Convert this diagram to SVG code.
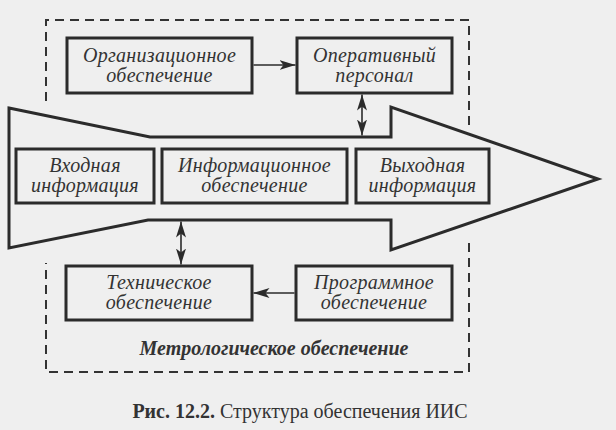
<svg xmlns="http://www.w3.org/2000/svg" width="616" height="430" viewBox="0 0 616 430">
<style>
.bg{fill:#efefef}
.box{fill:#efefef;stroke:#2b2b2b;stroke-width:3}
.big{fill:#efefef;stroke:#2b2b2b;stroke-width:3;stroke-linejoin:miter}
.dash{fill:none;stroke:#333;stroke-width:2;stroke-dasharray:9 6}
text{font-family:'Liberation Serif','DejaVu Serif',serif;fill:#333}
.lbl{font-style:italic;font-size:20px;text-anchor:middle;letter-spacing:0.3px}
.metro{font-style:italic;font-weight:bold;font-size:20px;text-anchor:middle}
.cap{font-size:20px;text-anchor:middle}
.con{fill:none;stroke:#2b2b2b;stroke-width:1.6}
</style>
<defs>
<marker id="ah" viewBox="0 0 16 10" refX="16" refY="5" markerWidth="16" markerHeight="10" markerUnits="userSpaceOnUse" orient="auto-start-reverse">
<path d="M0,0 L16,5 L0,10 L4,5 Z" fill="#2b2b2b"/>
</marker>
</defs>
<rect class="bg" x="0" y="0" width="616" height="430"/>
<g id="metrology">
<path class="dash" d="M46,101 V20 H469 V127 M469,243 V372 H46 V263"/>
<text class="metro" x="274" y="355">Метрологическое обеспечение</text>
</g>
<g id="flow-arrow">
<path class="big" d="M9,108 L150,137 L391,137 L391,107 L598,179 L391,250 L391,220 L148,220 L9,248 Z"/>
</g>
<g id="org">
<rect class="box" x="67" y="38" width="185" height="55"/>
<text class="lbl" x="159.5" y="62">Организационное</text>
<text class="lbl" x="159.5" y="82">обеспечение</text>
</g>
<g id="oper">
<rect class="box" x="297" y="38" width="155" height="55"/>
<text class="lbl" x="374.5" y="62">Оперативный</text>
<text class="lbl" x="374.5" y="82">персонал</text>
</g>
<g id="input">
<rect class="box" x="16" y="149" width="138" height="54"/>
<text class="lbl" x="85" y="172">Входная</text>
<text class="lbl" x="85" y="192">информация</text>
</g>
<g id="info">
<rect class="box" x="162" y="149" width="185" height="54"/>
<text class="lbl" x="254.5" y="172">Информационное</text>
<text class="lbl" x="254.5" y="192">обеспечение</text>
</g>
<g id="output">
<rect class="box" x="356" y="149" width="133" height="54"/>
<text class="lbl" x="422.5" y="172">Выходная</text>
<text class="lbl" x="422.5" y="192">информация</text>
</g>
<g id="tech">
<rect class="box" x="66" y="266" width="186" height="54"/>
<text class="lbl" x="159" y="289">Техническое</text>
<text class="lbl" x="159" y="309">обеспечение</text>
</g>
<g id="prog">
<rect class="box" x="296" y="266" width="156" height="54"/>
<text class="lbl" x="374" y="289">Программное</text>
<text class="lbl" x="374" y="309">обеспечение</text>
</g>
<g id="connectors">
<line class="con" x1="253.5" y1="65" x2="295.5" y2="65" marker-end="url(#ah)"/>
<line class="con" x1="362" y1="94.5" x2="362" y2="135.5" marker-start="url(#ah)" marker-end="url(#ah)"/>
<line class="con" x1="181" y1="221.5" x2="181" y2="264.5" marker-start="url(#ah)" marker-end="url(#ah)"/>
<line class="con" x1="294.5" y1="293" x2="253.5" y2="293" marker-end="url(#ah)"/>
</g>
<text class="cap" x="300" y="418"><tspan font-weight="bold">Рис. 12.2.</tspan> Структура обеспечения ИИС</text>
</svg>
